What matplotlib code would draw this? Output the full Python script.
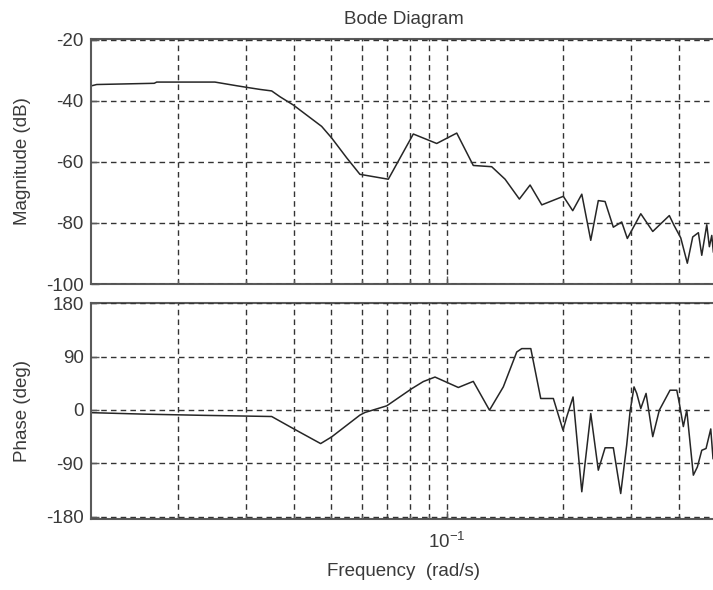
import matplotlib
matplotlib.use("Agg")
import matplotlib.pyplot as plt
from matplotlib.ticker import LogLocator, FixedLocator, NullFormatter, LogFormatterMathtext

# ---- data ----
mag_freq = [0.01189, 0.01232, 0.01738, 0.01764, 0.02498, 0.02845, 0.03081, 0.03269,
            0.03507, 0.03685, 0.03990, 0.04727, 0.05019, 0.05491, 0.05943, 0.07041,
            0.08176, 0.09403, 0.1060, 0.1170, 0.1306, 0.1415, 0.1541, 0.1643,
            0.1762, 0.2004, 0.2120, 0.2238, 0.2361, 0.2470, 0.2572, 0.2702,
            0.2841, 0.2938, 0.3184, 0.3420, 0.3776, 0.3884, 0.4043, 0.4205,
            0.4343, 0.4492, 0.4584, 0.4723, 0.4797, 0.4866, 0.4912]
mag_db = [-35.2, -34.7, -34.3, -33.9, -33.9, -35.1, -35.8, -36.3,
          -36.8, -38.7, -41.4, -48.4, -52.2, -58.7, -64.1, -65.7,
          -50.9, -54.0, -50.6, -61.2, -61.6, -65.7, -72.2, -67.6,
          -74.1, -71.3, -76.0, -70.6, -85.7, -72.7, -73.0, -81.4,
          -79.7, -85.1, -77.0, -82.8, -77.6, -80.8, -84.9, -93.2,
          -84.6, -83.2, -90.6, -80.6, -87.8, -84.1, -89.5]

phase_freq = [0.01191, 0.01640, 0.02316, 0.03507, 0.03990, 0.04699, 0.05019, 0.05943,
              0.06124, 0.06975, 0.08099, 0.08680, 0.09308, 0.1070, 0.1170, 0.1289,
              0.1400, 0.1517, 0.1563, 0.1650, 0.1751, 0.1888, 0.2000, 0.2049,
              0.2124, 0.2238, 0.2361, 0.2470, 0.2572, 0.2702, 0.2824, 0.2927,
              0.2986, 0.3058, 0.3108, 0.3184, 0.3286, 0.3420, 0.3557, 0.3792,
              0.3948, 0.4010, 0.4106, 0.4191, 0.4359, 0.4466, 0.4584, 0.4703,
              0.4837, 0.4903]
phase_deg = [-4.5, -7.0, -9.0, -11.0, -31.4, -56.7, -45.4, -8.6,
             -4.2, 7.0, 36.0, 48.0, 55.6, 38.0, 48.3, -0.3,
             39.0, 97.9, 103.6, 103.6, 19.4, 19.4, -34.0, -10.0,
             22.0, -138.0, -6.0, -101.6, -63.8, -63.8, -141.0, -59.0,
             -3.0, 39.0, 28.0, 2.5, 28.0, -45.0, -0.3, 33.4,
             33.4, 11.0, -28.0, -0.3, -110.0, -96.0, -68.0, -65.0,
             -32.0, -82.0]

mag_ticks = [-100, -80, -60, -40, -20]
phase_ticks = [-180, -90, 0, 90, 180]
x_limits = (0.01189, 0.5006)

title_text = "Bode Diagram"
mag_label = "Magnitude (dB)"
phase_label = "Phase (deg)"
freq_label = "Frequency  (rad/s)"

# ---- style ----
TXT = "#3a3a3a"
plt.rcParams["font.family"] = ["Liberation Sans", "DejaVu Sans"]
plt.rcParams["axes.unicode_minus"] = False
plt.rcParams["mathtext.fontset"] = "custom"
plt.rcParams["mathtext.rm"] = "Liberation Sans"
plt.rcParams["mathtext.it"] = "Liberation Sans"
plt.rcParams["mathtext.default"] = "regular"
FS = 13.5

W, H = 713, 590
fig = plt.figure(figsize=(W / 100, H / 100), dpi=100)
fig.patch.set_facecolor("white")

left_px, right_px = 90.7, 716.5
ax_w = (right_px - left_px) / W
ax1 = fig.add_axes([left_px / W, 1 - 284 / H, ax_w, 245 / H])
ax2 = fig.add_axes([left_px / W, 1 - 519 / H, ax_w, 216 / H])

for ax in (ax1, ax2):
    ax.set_xscale("log")
    ax.set_xlim(*x_limits)
    ax.xaxis.set_major_locator(FixedLocator([0.1]))
    ax.xaxis.set_minor_locator(LogLocator(base=10, subs=range(2, 10), numticks=20))
    ax.xaxis.set_minor_formatter(NullFormatter())
    ax.grid(True, which="both", axis="x", linestyle=(0, (4, 3)), color="#333333", lw=1.0)
    ax.grid(True, which="major", axis="y", linestyle=(0, (4, 3)), color="#333333", lw=1.0)
    ax.set_axisbelow(False)
    for s in ax.spines.values():
        s.set_color("#5a5a5a")
        s.set_linewidth(1.5)
    ax.tick_params(axis="both", which="both", direction="in", colors="#5a5a5a",
                   labelcolor=TXT, labelsize=FS)
    ax.tick_params(axis="both", which="major", length=6, width=1)
    ax.tick_params(axis="x", which="minor", length=3, width=1)
    ax.tick_params(axis="y", pad=5)

ax1.plot(mag_freq, mag_db, color="#262626", lw=1.1)
ax1.set_ylim(-100, -19.8)
ax1.set_yticks(mag_ticks)
ax1.tick_params(axis="x", labelbottom=False)
ax1.set_title(title_text, fontsize=FS, color=TXT, pad=11)
ax1.set_ylabel(mag_label, fontsize=FS, color=TXT)
ax1.yaxis.label.set_va("center")
ax1.yaxis.set_label_coords((22 - left_px) / (right_px - left_px), 0.5)

ax2.plot(phase_freq, phase_deg, color="#262626", lw=1.1)
ax2.set_ylim(-184, 180.6)
ax2.set_yticks(phase_ticks)
ax2.xaxis.set_major_formatter(LogFormatterMathtext())
ax2.tick_params(axis="x", which="major", pad=9)
ax2.set_ylabel(phase_label, fontsize=FS, color=TXT)
ax2.yaxis.label.set_va("center")
ax2.yaxis.set_label_coords((22 - left_px) / (right_px - left_px), 0.5)
ax2.set_xlabel(freq_label, fontsize=FS, color=TXT)
ax2.xaxis.label.set_va("center")
ax2.xaxis.set_label_coords(0.5, (519 - 572) / 216)

fig.savefig("out.png", dpi=100, facecolor="white")
